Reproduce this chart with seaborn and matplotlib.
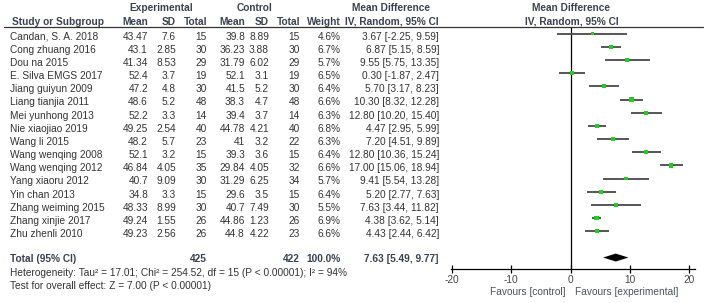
import numpy as np
import matplotlib
matplotlib.use("Agg")
import matplotlib.pyplot as plt
import matplotlib.transforms as mtransforms
from matplotlib.lines import Line2D
import seaborn as sns

# study data
studies = ["Candan, S. A. 2018", "Cong zhuang 2016", "Dou na 2015", "E. Silva EMGS 2017",
           "Jiang guiyun 2009", "Liang tianjia 2011", "Mei yunhong 2013", "Nie xiaojiao 2019",
           "Wang li 2015", "Wang wenqing 2008", "Wang wenqing 2012", "Yang xiaoru 2012",
           "Yin chan 2013", "Zhang weiming 2015", "Zhang xinjie 2017", "Zhu zhenli 2010"]
exp_mean = [43.47, 43.1, 41.34, 52.4, 47.2, 48.6, 52.2, 49.25, 48.2, 52.1, 46.84, 40.7, 34.8, 48.33, 49.24, 49.23]
exp_sd = [7.6, 2.85, 8.53, 3.7, 4.8, 5.2, 3.3, 2.54, 5.7, 3.2, 4.05, 9.09, 3.3, 8.99, 1.55, 2.56]
exp_n = [15, 30, 29, 19, 30, 48, 14, 40, 23, 15, 35, 30, 15, 30, 26, 26]
ctl_mean = [39.8, 36.23, 31.79, 52.1, 41.5, 38.3, 39.4, 44.78, 41, 39.3, 29.84, 31.29, 29.6, 40.7, 44.86, 44.8]
ctl_sd = [8.89, 3.88, 6.02, 3.1, 5.2, 4.7, 3.7, 4.21, 3.2, 3.6, 4.05, 6.25, 3.5, 7.49, 1.23, 4.22]
ctl_n = [15, 30, 29, 19, 30, 48, 14, 40, 22, 15, 32, 34, 15, 30, 26, 23]
weight = [4.6, 6.7, 5.7, 6.5, 6.4, 6.6, 6.3, 6.8, 6.3, 6.4, 6.6, 5.7, 6.4, 5.5, 6.9, 6.6]
md = [3.67, 6.87, 9.55, 0.30, 5.70, 10.30, 12.80, 4.47, 7.20, 12.80, 17.00, 9.41, 5.20, 7.63, 4.38, 4.43]
ci_lo = [-2.25, 5.15, 5.75, -1.87, 3.17, 8.32, 10.20, 2.95, 4.51, 10.36, 15.06, 5.54, 2.77, 3.44, 3.62, 2.44]
ci_hi = [9.59, 8.59, 13.35, 2.47, 8.23, 12.28, 15.40, 5.99, 9.89, 15.24, 18.94, 13.28, 7.63, 11.82, 5.14, 6.42]

total_exp, total_ctl = 425, 422
pooled_md, pooled_lo, pooled_hi = 7.63, 5.49, 9.77
x_ticks = [-20, -10, 0, 10, 20]

W, H = 708, 303
sns.set_theme(style="white")
plt.rcParams["font.family"] = ["Liberation Sans", "DejaVu Sans"]
plt.rcParams["axes.unicode_minus"] = False
FS = 7.3
TXT = "#333333"

fig = plt.figure(figsize=(W / 100, H / 100), dpi=100)

def fx(px):
    return px / W

def fy(py):
    return 1 - py / H

# forest axes: x from -20.2 to 21, rows 0..17
ax_l, ax_r, ax_t, ax_b = 450.8, 695, 27, 269
ax = fig.add_axes([fx(ax_l), fy(ax_b), fx(ax_r - ax_l), (ax_b - ax_t) / H])
ax.set_xlim(-20.2, 21.0)
ax.set_ylim(17.87, -0.51)

rows = np.arange(len(studies))
ax.hlines(rows, ci_lo, ci_hi, color="#555555", lw=1.4, zorder=2)
sns.scatterplot(x=md, y=rows, size=weight, sizes=(6, 10), marker="s", color="#22cc22",
                linewidth=0, legend=False, ax=ax, zorder=3)
total_row = 17
h = 0.3
ax.fill([pooled_lo, pooled_md, pooled_hi, pooled_md],
        [total_row, total_row - h, total_row, total_row + h], color="black", lw=0, zorder=3)
ax.axvline(0, color="black", lw=0.9, zorder=1)

for s in ["top", "left", "right"]:
    ax.spines[s].set_visible(False)
ax.spines["bottom"].set_color("black")
ax.spines["bottom"].set_linewidth(0.9)
ax.set_yticks([])
ax.set_xticks(x_ticks)
ax.set_xticklabels([str(t) for t in x_ticks])
ax.tick_params(axis="x", direction="inout", length=6, width=0.9, color="black",
               labelsize=FS, labelcolor="#444444", pad=1.5, bottom=True)
ax.set_xlabel("")
ax.set_ylabel("")
ax.patch.set_alpha(0)

# header rule across the whole figure
fig.add_artist(Line2D([fx(4), fx(703)], [fy(27), fy(27)], color="#333333", lw=0.9))

tr = mtransforms.blended_transform_factory(fig.transFigure, ax.transData)

def put(px, row, s, ha="right", bold=False, color=TXT):
    ax.text(fx(px), row, s, transform=tr, ha=ha, va="baseline", fontsize=FS,
            fontweight="bold" if bold else "normal", color=color, clip_on=False)

HC = "#3a4250"
h1, h2 = -1.69, -0.68
put(161, h1, "Experimental", ha="center", bold=True, color=HC)
put(254, h1, "Control", ha="center", bold=True, color=HC)
put(391, h1, "Mean Difference", ha="center", bold=True, color=HC)
put(571, h1, "Mean Difference", ha="center", bold=True, color=HC)
put(12, h2, "Study or Subgroup", ha="left", bold=True, color=HC)
put(148, h2, "Mean", bold=True, color=HC)
put(176, h2, "SD", bold=True, color=HC)
put(207, h2, "Total", bold=True, color=HC)
put(245, h2, "Mean", bold=True, color=HC)
put(269, h2, "SD", bold=True, color=HC)
put(300, h2, "Total", bold=True, color=HC)
put(341, h2, "Weight", bold=True, color=HC)
put(439, h2, "IV, Random, 95% CI", bold=True, color=HC)
put(572, h2, "IV, Random, 95% CI", ha="center", bold=True, color=HC)

off = 0.44
for i, name in enumerate(studies):
    y = i + off
    put(10, y, name, ha="left")
    put(148, y, f"{exp_mean[i]:g}")
    put(176, y, f"{exp_sd[i]:g}")
    put(207, y, f"{exp_n[i]}")
    put(245, y, f"{ctl_mean[i]:g}")
    put(269, y, f"{ctl_sd[i]:g}")
    put(300, y, f"{ctl_n[i]}")
    put(341, y, f"{weight[i]:.1f}%")
    put(439, y, f"{md[i]:.2f} [{ci_lo[i]:.2f}, {ci_hi[i]:.2f}]")

ty = 17.34
put(10, ty, "Total (95% CI)", ha="left", bold=True, color=HC)
put(207, ty, f"{total_exp}", bold=True, color=HC)
put(300, ty, f"{total_ctl}", bold=True, color=HC)
put(341, ty, f"{sum(weight):.1f}%", bold=True, color=HC)
put(439, ty, f"{pooled_md:.2f} [{pooled_lo:.2f}, {pooled_hi:.2f}]", bold=True, color=HC)
put(10, 18.40, "Heterogeneity: Tau\u00b2 = 17.01; Chi\u00b2 = 254.52, df = 15 (P < 0.00001); I\u00b2 = 94%", ha="left")
put(10, 19.39, "Test for overall effect: Z = 7.00 (P < 0.00001)", ha="left")

fig.text(fx(566), fy(295), "Favours [control]", ha="right", va="baseline", fontsize=FS, color="#4a5260")
fig.text(fx(575), fy(295), "Favours [experimental]", ha="left", va="baseline", fontsize=FS, color="#4a5260")

fig.savefig("out.png", dpi=100)
